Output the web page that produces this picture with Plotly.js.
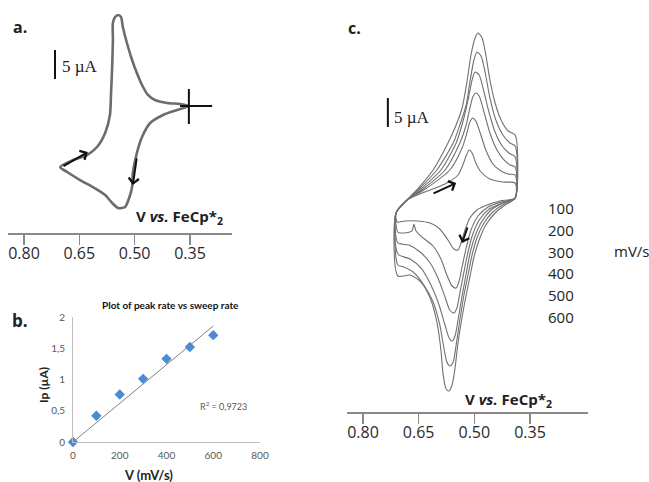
<!DOCTYPE html>
<html>
<head>
<meta charset="utf-8">
<script src="https://cdn.plot.ly/plotly-3.0.1.min.js"></script>
<style>html,body{margin:0;padding:0;background:#fff;}#plot{width:649px;height:482px;}</style>
</head>
<body>
<div id="plot"></div>
<script>
// ---------- Panel a: single CV (V vs FeCp*2, current in µA) ----------
const aVolt = [0.353,0.377,0.412,0.445,0.464,0.480,0.494,0.507,0.521,0.532,0.537,0.545,0.553,0.559,0.559,0.561,0.564,0.567,0.580,0.602,0.629,0.667,0.702,0.683,0.648,0.613,0.580,0.561,0.545,0.526,0.515,0.507,0.505,0.494,0.480,0.458,0.423,0.385,0.353];
const aCurr = [0,0.34,0.52,1.03,1.90,3.62,5.69,7.93,10.86,13.62,15.34,15.69,15.34,14.31,11.38,6.72,2.24,-1.55,-4.66,-7.07,-8.45,-9.31,-10.52,-11.38,-12.76,-13.97,-15.34,-16.72,-17.59,-17.41,-15.86,-13.97,-11.55,-8.10,-5.34,-2.93,-1.55,-0.69,0];

// ---------- Panel b: peak current vs sweep rate ----------
const bRate = [0,100,200,300,400,500,600];
const bIp = [0,0.42,0.76,1.01,1.33,1.52,1.71];
const bTrendRate = [0,600];
const bTrendIp = [0,1.856];
const bXTicks = [0,200,400,600,800];
const bYTicks = [0,0.5,1,1.5,2];
const bYTickText = ['0','0,5','1','1,5','2'];

// ---------- Panel c: CVs at several sweep rates ----------
const rates = [100,200,300,400,500,600];
const cV100 = [0.681,0.633,0.579,0.544,0.531,0.522,0.514,0.506,0.496,0.482,0.458,0.425,0.390, 0.390,0.431,0.466,0.493,0.512,0.525,0.536,0.544,0.555,0.571,0.593,0.619,0.652,0.687,0.708,0.711,0.681];
const cI100 = [0,1.38,2.76,4.31,6.03,7.59,8.62,8.10,6.38,4.83,3.62,3.10,2.93, 0.34,-0.17,-0.86,-1.72,-3.10,-5.17,-7.41,-8.62,-8.45,-6.90,-5.00,-3.97,-3.62,-3.62,-3.79,-2.24,0];
const cV200 = [0.681,0.636,0.566,0.533,0.520,0.512,0.504,0.496,0.485,0.469,0.450,0.428,0.409,0.390, 0.390,0.428,0.463,0.490,0.509,0.522,0.533,0.541,0.549,0.560,0.574,0.590,0.611,0.638,0.657,0.663,0.668,0.690,0.706,0.711,0.681];
const cI200 = [0,1.72,5.17,8.97,11.55,13.45,14.14,13.62,11.72,8.62,6.21,5.00,4.48,4.31, 0.34,-0.34,-1.21,-2.76,-5.17,-8.28,-11.55,-13.97,-15.17,-14.83,-12.93,-10.17,-7.93,-6.55,-5.34,-4.14,-5.34,-5.69,-5.52,-2.24,0];
const cV300 = [0.681,0.638,0.579,0.539,0.522,0.512,0.504,0.496,0.487,0.474,0.458,0.439,0.420,0.404,0.390, 0.390,0.425,0.460,0.485,0.504,0.517,0.528,0.539,0.547,0.555,0.566,0.579,0.598,0.619,0.646,0.676,0.706,0.711,0.681];
const cI300 = [0,1.90,5.17,9.83,12.93,15.86,17.76,18.45,17.93,15.17,11.55,8.62,6.90,6.03,5.69, 0.34,-0.52,-1.55,-3.28,-5.86,-8.97,-12.41,-16.03,-18.62,-19.48,-18.97,-16.72,-13.45,-10.86,-8.97,-7.76,-7.41,-2.24,0];
const cV400 = [0.681,0.641,0.590,0.549,0.531,0.517,0.506,0.498,0.487,0.474,0.460,0.444,0.425,0.407,0.390, 0.390,0.423,0.455,0.479,0.498,0.512,0.522,0.533,0.544,0.552,0.560,0.568,0.579,0.595,0.617,0.644,0.673,0.706,0.711,0.681];
const cI400 = [0,2.07,5.17,9.83,13.45,17.24,20.69,22.07,21.55,18.62,15.00,11.72,9.31,8.10,7.41, 0.34,-0.52,-1.72,-3.62,-6.21,-9.31,-12.76,-16.55,-20.69,-23.45,-24.31,-23.79,-21.55,-18.10,-14.66,-11.72,-10.17,-9.31,-2.24,0];
const cV500 = [0.681,0.644,0.601,0.557,0.539,0.522,0.512,0.501,0.493,0.482,0.471,0.458,0.442,0.423,0.404,0.390, 0.390,0.420,0.450,0.474,0.493,0.506,0.517,0.528,0.539,0.549,0.557,0.566,0.574,0.582,0.593,0.611,0.636,0.665,0.690,0.706,0.711,0.681];
const cI500 = [0,2.24,5.17,9.83,12.93,16.38,20.34,24.14,25.52,24.83,22.07,17.59,13.79,11.21,9.83,9.31, 0.34,-0.69,-2.07,-3.97,-6.55,-9.48,-12.93,-16.38,-20.69,-25.00,-27.93,-28.62,-27.93,-25.52,-21.55,-17.59,-14.66,-12.41,-11.55,-11.21,-2.24,0];
const cV600 = [0.681,0.646,0.611,0.571,0.549,0.533,0.520,0.509,0.498,0.490,0.479,0.469,0.458,0.444,0.428,0.409,0.390, 0.390,0.417,0.444,0.469,0.487,0.501,0.512,0.522,0.533,0.544,0.552,0.560,0.568,0.576,0.584,0.590,0.601,0.619,0.644,0.673,0.706,0.711,0.681];
const cI600 = [0,2.41,5.17,9.83,12.93,15.86,20.34,25.00,27.93,28.79,27.93,25.00,20.69,16.72,13.79,11.90,11.21, 0.34,-0.86,-2.24,-4.31,-6.90,-9.83,-13.28,-16.38,-20.17,-24.66,-28.97,-31.90,-32.93,-32.59,-30.17,-25.86,-21.03,-16.90,-14.14,-12.93,-13.10,-2.24,0];

const cvTicks = [0.80,0.65,0.50,0.35];
const cvTickText = ['0.80','0.65','0.50','0.35'];

// ---------- build ----------
const W = 649, H = 482;
const px = x => x / W;
const py = y => 1 - y / H;

const traces = [];
traces.push({x:aVolt, y:aCurr, xaxis:'x', yaxis:'y', mode:'lines',
  line:{color:'#6c6c6c', width:2.6, shape:'spline', smoothing:0.7}, hoverinfo:'skip'});

const cVs = [cV100,cV200,cV300,cV400,cV500,cV600];
const cIs = [cI100,cI200,cI300,cI400,cI500,cI600];
rates.forEach((r,i) => {
  traces.push({x:cVs[i], y:cIs[i], xaxis:'x3', yaxis:'y3', mode:'lines', name:r+' mV/s',
    line:{color:'#707070', width:1.1, shape:'spline', smoothing:0.7}, hoverinfo:'skip'});
});

traces.push({x:bTrendRate, y:bTrendIp, xaxis:'x2', yaxis:'y2', mode:'lines',
  line:{color:'#808080', width:1}, hoverinfo:'skip'});
traces.push({x:bRate, y:bIp, xaxis:'x2', yaxis:'y2', mode:'markers', cliponaxis:false,
  marker:{symbol:'diamond', size:8, color:'#4a8bd4'}, hoverinfo:'skip'});

const cvAxis = (dom, rng, anchor) => ({
  domain:dom, range:rng, anchor:anchor, tickvals:cvTicks, ticktext:cvTickText,
  ticks:'outside', ticklen:10, tickwidth:1.5, tickcolor:'#8a8a8a', ticklabelstandoff:-5,
  showline:true, linecolor:'#8a8a8a', linewidth:1.6, showgrid:false, zeroline:false,
  tickfont:{family:'Open Sans', size:16, color:'#2a2a2a'}, automargin:false, fixedrange:true
});
const hiddenY = (dom, rng, anchor) => ({domain:dom, range:rng, anchor:anchor, visible:false, fixedrange:true});

const annotations = [];
const txt = (x,y,text,opt) => annotations.push(Object.assign({xref:'paper', yref:'paper', x:px(x), y:py(y), text:text,
  showarrow:false, xanchor:'center', yanchor:'middle', font:{family:'Open Sans', size:15, color:'#222'}}, opt||{}));

txt(20,27,'<b>a.</b>',{font:{family:'Open Sans', size:16, color:'#222'}});
txt(354,28,'<b>c.</b>',{font:{family:'Open Sans', size:16, color:'#222'}});
txt(20,320,'<b>b.</b>',{font:{family:'Open Sans', size:17, color:'#222'}});
txt(180,217,'<b>V <i>vs.</i> FeCp*<sub>2</sub></b>',{font:{family:'Open Sans', size:15, color:'#222'}});
txt(508,400,'<b>V <i>vs.</i> FeCp*<sub>2</sub></b>',{font:{family:'Open Sans', size:15, color:'#222'}});
txt(60,67,'5 µA',{xanchor:'left', font:{family:'Liberation Serif', size:17, color:'#222'}});
txt(392,117,'5 µA',{xanchor:'left', font:{family:'Liberation Serif', size:17, color:'#222'}});
rates.forEach((r,i) => txt(561, 208 + i*21.8, String(r), {font:{family:'Open Sans', size:15, color:'#222'}}));
txt(612,251,'mV/s',{xanchor:'left', font:{family:'Open Sans', size:15, color:'#222'}});
txt(170,305,'<b>Plot of peak rate vs sweep rate</b>',{font:{family:'Lato', size:10, color:'#111'}});
txt(43,385,'<b>Ip (µA)</b>',{textangle:-90, font:{family:'Lato', size:12, color:'#222'}});
txt(148,475,'<b>V (mV/s)</b>',{font:{family:'Lato', size:13, color:'#222'}});
txt(198,406,'R<sup>2</sup> = 0,9723',{xanchor:'left', font:{family:'Lato', size:9, color:'#595959'}});

// arrows (data coords)
const arrow = (xr, yr, x0, y0, x1, y1) => annotations.push({xref:xr, yref:yr, axref:xr, ayref:yr,
  x:x1, y:y1, ax:x0, ay:y0, showarrow:true, arrowhead:4, arrowsize:1, arrowwidth:2, arrowcolor:'#111', text:''});
arrow('x','y', 0.697,-10.52, 0.627,-7.93);
arrow('x','y', 0.494,-8.79, 0.505,-13.62);
arrow('x3','y3', 0.614,1.03, 0.549,2.93);
arrow('x3','y3', 0.517,-4.48, 0.533,-7.41);

const shapes = [
  // scale bars (5 µA)
  {type:'line', xref:'x', yref:'y', x0:0.716, x1:0.716, y0:9.66, y1:4.66, line:{color:'#111', width:2}},
  {type:'line', xref:'x3', yref:'y3', x0:0.733, x1:0.733, y0:17.59, y1:12.59, line:{color:'#111', width:2}},
  // crosshair at the switching potential in panel a
  {type:'line', xref:'x', yref:'y', x0:0.377, x1:0.290, y0:0, y1:0, line:{color:'#111', width:2}},
  {type:'line', xref:'x', yref:'y', x0:0.353, x1:0.353, y0:2.93, y1:-3.10, line:{color:'#111', width:2}}
];

const layout = {
  width:W, height:H, margin:{l:0,r:0,t:0,b:0}, paper_bgcolor:'#fff', plot_bgcolor:'rgba(0,0,0,0)',
  showlegend:false, font:{family:'Open Sans', color:'#333'},
  xaxis: cvAxis([8/W, 232/W], [0.8434, 0.2361], 'y'),
  yaxis: hiddenY([py(233), py(5)], [-21.897, 17.414], 'x'),
  xaxis3: cvAxis([347/W, 588/W], [0.8431, 0.1937], 'y3'),
  yaxis3: hiddenY([py(412), py(5)], [-36.552, 33.621], 'x3'),
  xaxis2: {domain:[73/W, 260/W], range:[0,800], anchor:'y2', tickvals:bXTicks,
    showline:true, linecolor:'#bfbfbf', linewidth:1, ticks:'outside', ticklen:4, tickcolor:'rgba(0,0,0,0)',
    tickfont:{family:'Lato', size:10, color:'#595959'}, showgrid:false, zeroline:false, automargin:false, fixedrange:true},
  yaxis2: {domain:[py(442), py(317)], range:[0,2], anchor:'x2', tickvals:bYTicks, ticktext:bYTickText,
    showline:true, linecolor:'#bfbfbf', linewidth:1, ticks:'outside', ticklen:5, tickcolor:'rgba(0,0,0,0)',
    tickfont:{family:'Lato', size:10, color:'#595959'}, showgrid:false, zeroline:false, automargin:false, fixedrange:true},
  annotations: annotations,
  shapes: shapes
};

Plotly.newPlot('plot', traces, layout, {staticPlot:true, displayModeBar:false});
</script>
</body>
</html>
